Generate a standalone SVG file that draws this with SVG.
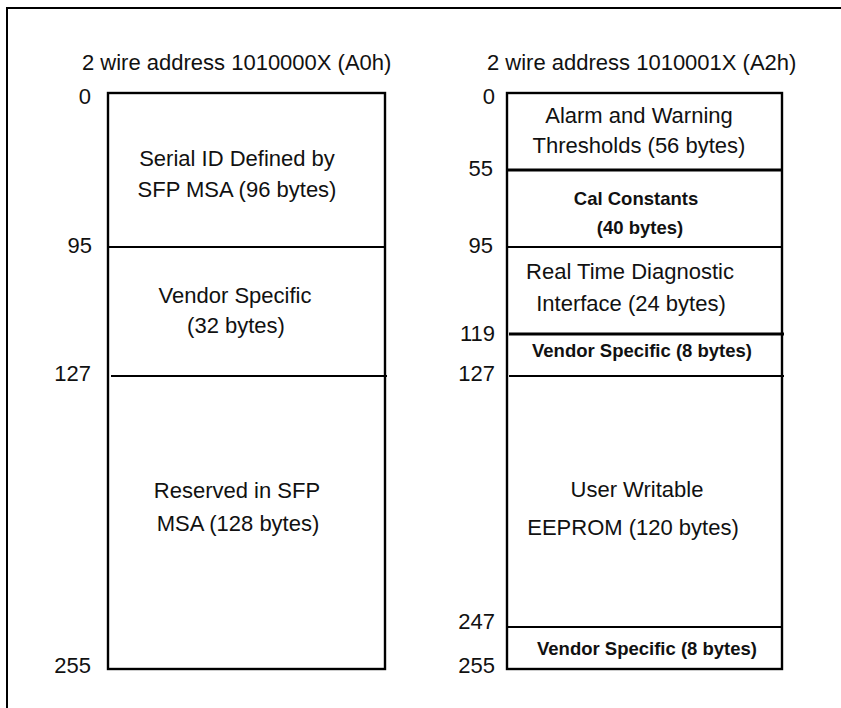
<svg xmlns="http://www.w3.org/2000/svg" width="841" height="708" viewBox="0 0 841 708">
<style>
text{font-family:"Liberation Sans",Arial,sans-serif;font-size:22px;fill:#111}
.c{text-anchor:middle}
.b{font-weight:bold;font-size:18.5px}
.n{text-anchor:end}
.box{fill:#fff;stroke:#000;stroke-width:2.4}
.ln{stroke:#000;stroke-width:2}
.lt{stroke:#000;stroke-width:3}
</style>
<rect width="841" height="708" fill="#fff"/>
<path d="M7 708V8H841" fill="none" stroke="#000" stroke-width="2"/>
<g id="left">
<text x="82" y="70">2 wire address 1010000X (A0h)</text>
<rect class="box" x="108" y="93" width="277" height="576"/>
<text class="n" x="91" y="104">0</text>
<text class="n" x="92" y="253">95</text>
<text class="n" x="91" y="381">127</text>
<text class="n" x="91" y="673">255</text>
</g>
<g id="right">
<text x="487" y="70">2 wire address 1010001X (A2h)</text>
<rect class="box" x="507" y="93" width="275" height="576"/>
<text class="n" x="495" y="104">0</text>
<text class="n" x="493" y="176">55</text>
<text class="n" x="493" y="253">95</text>
<text class="n" x="495" y="341">119</text>
<text class="n" x="495" y="381">127</text>
<text class="n" x="495" y="629">247</text>
<text class="n" x="495" y="673">255</text>
</g>
<g id="connectors">
<line class="ln" x1="108" y1="247" x2="385" y2="247"/>
<line class="ln" x1="111" y1="376" x2="387" y2="376"/>
<line class="lt" x1="507" y1="170" x2="782" y2="170"/>
<line class="ln" x1="507" y1="247" x2="782" y2="247"/>
<line class="lt" x1="509" y1="334" x2="784" y2="334"/>
<line class="ln" x1="509" y1="376" x2="784" y2="376"/>
<line class="ln" x1="507" y1="627" x2="782" y2="627"/>
</g>
<g id="a0-serial"><text class="c" x="237" y="166">Serial ID Defined by</text><text class="c" x="237" y="197">SFP MSA (96 bytes)</text></g>
<g id="a0-vendor"><text class="c" x="235" y="303">Vendor Specific</text><text class="c" x="236" y="333">(32 bytes)</text></g>
<g id="a0-reserved"><text class="c" x="237" y="498">Reserved in SFP</text><text class="c" x="238" y="531">MSA (128 bytes)</text></g>
<g id="a2-alarm"><text class="c" x="639" y="123">Alarm and Warning</text><text class="c" x="639" y="153">Thresholds (56 bytes)</text></g>
<g id="a2-cal"><text class="c b" x="636" y="205">Cal Constants</text><text class="c b" x="640" y="234">(40 bytes)</text></g>
<g id="a2-rtd"><text class="c" x="630" y="279">Real Time Diagnostic</text><text class="c" x="631" y="311">Interface (24 bytes)</text></g>
<g id="a2-vendor1"><text class="c b" x="642" y="357">Vendor Specific (8 bytes)</text></g>
<g id="a2-user"><text class="c" x="637" y="497">User Writable</text><text class="c" x="633" y="535">EEPROM (120 bytes)</text></g>
<g id="a2-vendor2"><text class="c b" x="647" y="655">Vendor Specific (8 bytes)</text></g>
</svg>
